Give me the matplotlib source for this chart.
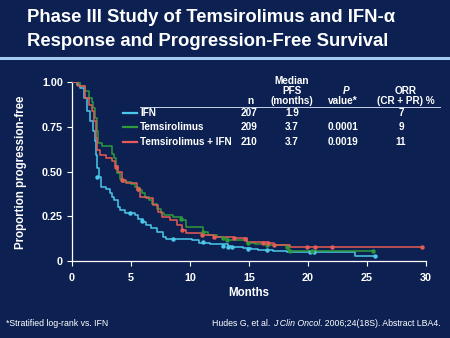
import matplotlib
matplotlib.use("Agg")
import matplotlib.pyplot as plt
from matplotlib.lines import Line2D

plt.rcParams["font.family"] = ["Liberation Sans", "DejaVu Sans"]

BG = "#0c2152"
WHITE = "#ffffff"

# Kaplan-Meier step data (months, proportion progression-free)
ifn_t = [0, 0.4, 0.7, 1.0, 1.25, 1.5, 1.8, 1.95, 2.03, 2.15, 2.25, 2.45, 2.9, 3.2, 3.4,
         3.6, 3.9, 4.1, 4.5, 5.3, 5.6, 6.0, 6.3, 6.7, 7.2, 7.7, 8.0, 10.2, 10.8, 11.7,
         13.2, 13.5, 14.5, 15.2, 15.8, 17.0, 18.2, 20.5, 24.0, 25.7]
ifn_s = [1.0, 0.985, 0.966, 0.91, 0.836, 0.78, 0.725, 0.67, 0.594, 0.52, 0.47, 0.415,
         0.40, 0.378, 0.36, 0.34, 0.30, 0.285, 0.27, 0.255, 0.235, 0.22, 0.20, 0.185,
         0.164, 0.135, 0.124, 0.115, 0.10, 0.095, 0.085, 0.076, 0.07, 0.067, 0.061,
         0.058, 0.052, 0.05, 0.028, 0.028]
ifn_cens_t = [2.15, 4.9, 5.9, 8.6, 11.1, 12.8, 13.2, 13.6, 14.9, 16.5, 20.2, 20.5, 25.7]
ifn_cens_s = [0.47, 0.266, 0.225, 0.121, 0.104, 0.085, 0.08, 0.08, 0.069, 0.06, 0.05,
              0.05, 0.028]

tem_t = [0, 0.7, 1.1, 1.4, 1.67, 1.8, 1.95, 2.09, 2.2, 2.5, 3.36, 3.6, 3.75, 3.85, 4.1,
         4.35, 5.0, 5.3, 5.6, 5.9, 6.2, 6.5, 6.8, 7.2, 7.5, 7.8, 8.6, 9.3, 9.7, 11.1,
         11.5, 12.3, 12.8, 13.2, 14.8, 15.5, 16.5, 18.4, 25.5]
tem_s = [1.0, 0.976, 0.948, 0.91, 0.89, 0.855, 0.8, 0.725, 0.66, 0.64, 0.60, 0.575,
         0.52, 0.49, 0.46, 0.443, 0.43, 0.415, 0.397, 0.38, 0.36, 0.34, 0.32, 0.29,
         0.266, 0.255, 0.245, 0.23, 0.19, 0.16, 0.145, 0.136, 0.127, 0.12, 0.10, 0.095,
         0.088, 0.058, 0.058]
tem_cens_t = [5.6, 9.2, 11.1, 12.8, 13.1, 14.9, 16.5, 18.2, 18.5, 20.3, 25.5]
tem_cens_s = [0.40, 0.232, 0.162, 0.128, 0.12, 0.10, 0.09, 0.08, 0.058, 0.058, 0.058]

combo_t = [0, 0.5, 1.1, 1.4, 1.67, 1.86, 2.03, 2.15, 2.37, 2.9, 3.36, 3.64, 3.9, 4.2,
           4.6, 5.5, 5.8, 6.3, 6.9, 7.3, 7.6, 8.3, 8.9, 9.3, 9.7, 11.0, 12.0, 13.7,
           14.8, 16.6, 17.1, 18.5, 29.7]
combo_s = [1.0, 0.976, 0.91, 0.873, 0.836, 0.78, 0.687, 0.62, 0.594, 0.575, 0.557,
           0.53, 0.5, 0.45, 0.434, 0.406, 0.36, 0.35, 0.313, 0.276, 0.248, 0.229, 0.20,
           0.173, 0.158, 0.145, 0.136, 0.127, 0.108, 0.099, 0.089, 0.076, 0.076]
combo_cens_t = [3.73, 4.2, 5.6, 9.3, 11.0, 12.0, 13.7, 14.7, 16.2, 16.6, 17.1, 19.9,
                20.6, 22.0, 29.7]
combo_cens_s = [0.527, 0.45, 0.40, 0.173, 0.145, 0.136, 0.127, 0.121, 0.102, 0.099,
                0.089, 0.076, 0.076, 0.076, 0.076]

arm_names = ["IFN", "Temsirolimus", "Temsirolimus + IFN"]
arm_colors = ["#4cc9ea", "#2f9a3c", "#e65b55"]
arm_n = ["207", "209", "210"]
arm_median = ["1.9", "3.7", "3.7"]
arm_p = ["", "0.0001", "0.0019"]
arm_orr = ["7", "9", "11"]

y_ticks = [0, 0.25, 0.5, 0.75, 1.0]
y_tick_labels = ["0", "0.25", "0.50", "0.75", "1.00"]
x_ticks = [0, 5, 10, 15, 20, 25, 30]

W, H = 450, 338


def fx(px):
    return px / W


def fy(py):
    return 1 - py / H


fig = plt.figure(figsize=(W / 100, H / 100), dpi=100)
fig.patch.set_facecolor(BG)

# title band
fig.text(fx(27), fy(18), "Phase III Study of Temsirolimus and IFN-\u03b1", color=WHITE,
         fontsize=13.3, fontweight="bold", va="center", ha="left")
fig.text(fx(27), fy(41), "Response and Progression-Free Survival", color=WHITE,
         fontsize=13.3, fontweight="bold", va="center", ha="left")
fig.add_artist(Line2D([0, 1], [fy(57.5), fy(57.5)], color="#a3cbef", lw=2.2,
                      transform=fig.transFigure))

ax = fig.add_axes([fx(72), fy(261), fx(426) - fx(72), fy(82) - fy(261)])
ax.set_facecolor(BG)
ax.set_xlim(0, 30)
ax.set_ylim(0, 1)

series = [
    (ifn_t, ifn_s, ifn_cens_t, ifn_cens_s),
    (tem_t, tem_s, tem_cens_t, tem_cens_s),
    (combo_t, combo_s, combo_cens_t, combo_cens_s),
]
for (t, s, ct, cs), color in zip(series, arm_colors):
    ax.step(t, s, where="post", color=color, lw=1.1, zorder=3)
    ax.plot(ct, cs, "o", color=color, ms=3.2, mec="none", zorder=4)

for side in ["top", "right"]:
    ax.spines[side].set_visible(False)
for side in ["left", "bottom"]:
    ax.spines[side].set_color(WHITE)
    ax.spines[side].set_linewidth(0.9)
ax.set_yticks(y_ticks)
ax.set_yticklabels(y_tick_labels)
ax.set_xticks(x_ticks)
ax.tick_params(colors=WHITE, labelcolor=WHITE, labelsize=7.8, length=3.5, width=0.8,
               pad=3)
ax.tick_params(axis="x", pad=5)
for lbl in ax.get_xticklabels() + ax.get_yticklabels():
    lbl.set_fontweight("bold")
ax.set_xlabel("Months", color=WHITE, fontsize=8.3, fontweight="bold", labelpad=3)
fig.text(fx(21), fy(172), "Proportion progression-free", color=WHITE, fontsize=8.3,
         fontweight="bold", rotation=90, va="center", ha="center")

# results table inside the plot area
hdr = dict(color=WHITE, fontsize=7.2, fontweight="bold", ha="center", va="center")
fig.text(fx(250), fy(101), "n", **hdr)
fig.text(fx(292), fy(80.5), "Median", **hdr)
fig.text(fx(292), fy(90.5), "PFS", **hdr)
fig.text(fx(292), fy(100.5), "(months)", **hdr)
fig.text(fx(346), fy(90.5), "P", style="italic", **hdr)
fig.text(fx(343), fy(100.5), "value*", **hdr)
fig.text(fx(406), fy(90.5), "ORR", **hdr)
fig.text(fx(406), fy(100.5), "(CR + PR) %", **hdr)
fig.add_artist(Line2D([fx(140), fx(440)], [fy(107.3), fy(107.3)], color="#c8d2e6",
                      lw=0.7, transform=fig.transFigure))

row_y = [113.3, 127.3, 141.7]
cell = dict(color=WHITE, fontsize=7.2, fontweight="bold", va="center")
for i, ry in enumerate(row_y):
    fig.add_artist(Line2D([fx(123), fx(137)], [fy(ry), fy(ry)], color=arm_colors[i],
                          lw=1.6, transform=fig.transFigure))
    fig.text(fx(140), fy(ry), arm_names[i], ha="left", **cell)
    fig.text(fx(249), fy(ry), arm_n[i], ha="center", **cell)
    fig.text(fx(292), fy(ry), arm_median[i], ha="center", **cell)
    fig.text(fx(343), fy(ry), arm_p[i], ha="center", **cell)
    fig.text(fx(401), fy(ry), arm_orr[i], ha="center", **cell)

# footnotes
foot = dict(color=WHITE, fontsize=6.3, va="center", ha="left")
fig.text(fx(6), fy(323), "*Stratified log-rank vs. IFN", **foot)

renderer = fig.canvas.get_renderer()
x0 = fx(212)
for piece, st in [("Hudes G, et al. ", "normal"), ("J Clin Oncol", "italic"),
                  (". 2006;24(18S). Abstract LBA4.", "normal")]:
    txt = fig.text(x0, fy(323), piece, style=st, **foot)
    bb = txt.get_window_extent(renderer)
    x0 += bb.width / W

fig.savefig("out.png", dpi=100, facecolor=BG)
